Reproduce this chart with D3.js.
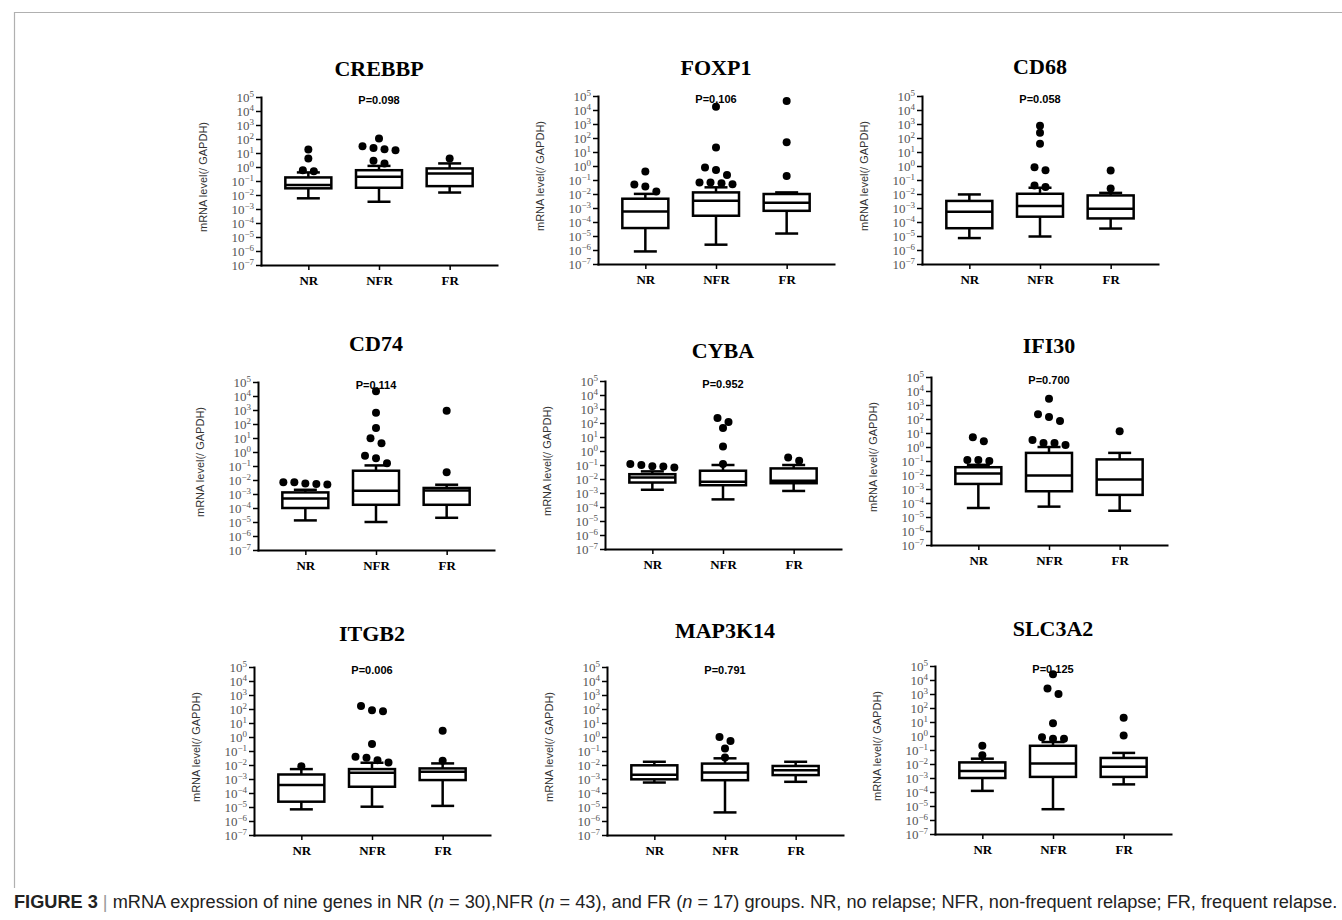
<!DOCTYPE html>
<html>
<head>
<meta charset="utf-8">
<script src="https://cdn.jsdelivr.net/npm/d3@7"></script>
<style>
  body { margin: 0; background: #fff; }
</style>
</head>
<body>
<div id="chart"></div>
<script>
const genes = ["CREBBP", "FOXP1", "CD68", "CD74", "CYBA", "IFI30", "ITGB2", "MAP3K14", "SLC3A2"];
const groups = ["NR", "NFR", "FR"];
const pValues = ["P=0.098", "P=0.106", "P=0.058", "P=0.114", "P=0.952", "P=0.700", "P=0.006", "P=0.791", "P=0.125"];
const yTicks = [1e-7, 1e-6, 1e-5, 1e-4, 1e-3, 1e-2, 1e-1, 1e0, 1e1, 1e2, 1e3, 1e4, 1e5];

// box stats per gene: [whisker low, q1, median, q3, whisker high]
const boxNR = [
    [0.0058, 0.030, 0.051, 0.18, 0.41],
    [7.9e-7, 3.7e-5, 5.6e-4, 0.0046, 0.0102],
    [7.1e-6, 3.6e-5, 5.5e-4, 0.0032, 0.0093],
    [1.3e-5, 1.0e-4, 4.7e-4, 0.0013, 0.0020],
    [0.0017, 0.0056, 0.013, 0.022, 0.035],
    [4.4e-5, 0.0023, 0.013, 0.036, 0.053],
    [6.8e-6, 2.4e-5, 3.7e-4, 0.0021, 0.0051],
    [5.6e-4, 9.5e-4, 0.0020, 0.0095, 0.017],
    [1.2e-4, 0.0010, 0.0031, 0.013, 0.024]
];
const boxNFR = [
    [0.0033, 0.033, 0.20, 0.59, 1.2],
    [2.4e-6, 2.8e-4, 0.0033, 0.013, 0.030],
    [9.2e-6, 2.4e-4, 0.0014, 0.0104, 0.028],
    [1.0e-5, 1.7e-4, 0.0017, 0.046, 0.11],
    [3.5e-4, 0.0036, 0.0063, 0.039, 0.10],
    [5.5e-5, 6.9e-4, 0.0091, 0.38, 1.0],
    [1.05e-5, 2.8e-4, 0.0028, 0.0051, 0.0145],
    [4.1e-6, 8.2e-4, 0.0029, 0.0126, 0.030],
    [5.9e-6, 0.0012, 0.011, 0.20, 0.37]
];
const boxFR = [
    [0.015, 0.043, 0.35, 0.79, 1.8],
    [1.5e-5, 6.3e-4, 0.0024, 0.010, 0.013],
    [3.4e-5, 1.8e-4, 8.9e-4, 0.0079, 0.012],
    [2.0e-5, 1.7e-4, 0.0018, 0.0027, 0.0046],
    [0.0014, 0.0050, 0.0074, 0.057, 0.10],
    [2.8e-5, 3.8e-4, 0.0047, 0.13, 0.38],
    [1.2e-5, 8.4e-4, 0.0033, 0.0057, 0.013],
    [6.3e-4, 0.0019, 0.0042, 0.0085, 0.017],
    [3.5e-4, 0.0012, 0.0063, 0.027, 0.062]
];

// outlier values per gene
const outNR = [
    [18, 4.0, 0.59, 0.50],
    [0.40, 0.048, 0.035, 0.015],
    [],
    [0.0051, 0.0068, 0.0056, 0.0070, 0.0048],
    [0.079, 0.12, 0.080, 0.10, 0.067],
    [5.0, 2.6, 0.098, 0.12, 0.12],
    [0.0083],
    [],
    [0.20, 0.042]
];
const outNFR = [
    [107, 30, 23, 18.6, 16, 2.75, 1.8],
    [17000, 21, 0.78, 0.52, 0.23, 0.065, 0.065, 0.058, 0.049],
    [740, 240, 39, 0.81, 0.50, 0.040, 0.031],
    [22000, 630, 51, 9.5, 4.2, 0.53, 0.36, 0.16],
    [230, 120, 44, 2.1, 0.12],
    [2800, 215, 138, 71, 3.2, 1.9, 1.9, 1.4],
    [166, 81, 69, 0.31, 0.039, 0.033, 0.022, 0.015],
    [1.0, 0.51, 0.15, 0.034],
    [26000, 2500, 980, 8.1, 0.83, 0.63, 0.63]
];
const outFR = [
    [4.1],
    [44000, 49, 0.19],
    [0.47, 0.025],
    [870, 0.036],
    [0.35, 0.20],
    [13.5],
    [2.8, 0.020],
    [],
    [20, 1.1]
];

const svgWidth = 1342;
const svgHeight = 920;

// where each panel's axes corner sits, and its title line
const panels = [
    {x: 261, y: 97, title: 68},
    {x: 598, y: 96, title: 67},
    {x: 922, y: 96, title: 66},
    {x: 258, y: 382, title: 343},
    {x: 605, y: 381, title: 350},
    {x: 931, y: 377, title: 345},
    {x: 254, y: 667, title: 633},
    {x: 607, y: 667, title: 630},
    {x: 935, y: 666, title: 628}
];
const plotW = 236;
const plotH = 168;
const boxW = 46;
const capW = 23;
const dotR = 4;
const dotGap = 11;

const svg = d3.select('#chart')
    .append('svg')
    .attr('width', svgWidth)
    .attr('height', svgHeight);

// light frame round the figure
svg.append('path')
    .attr('d', 'M14.5,888V12.5H1342')
    .attr('fill', 'none')
    .attr('stroke', '#b0b0b0')
    .attr('stroke-width', 1.2);

// group nearby outliers into rows and spread each row sideways
function swarm(values, y) {
    const pts = values.map(v => ({v: v, py: y(v)})).sort((a, b) => a.py - b.py);
    const rows = [];
    pts.forEach(p => {
        const last = rows.length ? rows[rows.length - 1] : null;
        if (last && p.py - last[last.length - 1].py < 6) last.push(p);
        else rows.push([p]);
    });
    rows.forEach(row => {
        row.forEach((p, k) => { p.dx = (k - (row.length - 1) / 2) * dotGap; });
    });
    return pts;
}

const boxSets = [boxNR, boxNFR, boxFR];
const outSets = [outNR, outNFR, outFR];

genes.forEach(function(gene, i) {
    const p = panels[i];
    const g = svg.append('g').attr('transform', `translate(${p.x},${p.y})`);

    const xScale = d3.scalePoint()
        .domain(groups)
        .range([0, plotW])
        .padding(0.67);

    const yScale = d3.scaleLog()
        .domain([1e-7, 1e5])
        .range([plotH, 0]);

    // y axis with 10^n labels
    const yAxis = g.append('g')
        .call(d3.axisLeft(yScale)
            .tickValues(yTicks)
            .tickSizeInner(5)
            .tickSizeOuter(0)
            .tickPadding(2)
            .tickFormat(''));
    yAxis.selectAll('.tick line').attr('stroke-width', 1.5);
    yAxis.selectAll('.tick text').each(function(d) {
        const t = d3.select(this)
            .attr('fill', '#555')
            .attr('font-family', 'Liberation Serif, Times New Roman, serif')
            .attr('font-size', 13);
        const e = Math.round(Math.log10(d));
        t.append('tspan').text('10');
        t.append('tspan')
            .attr('dy', '-0.5em')
            .attr('font-size', 9)
            .text(e < 0 ? '\u2212' + (-e) : e);
    });

    // x axis
    const xAxis = g.append('g')
        .attr('transform', `translate(0,${plotH})`)
        .call(d3.axisBottom(xScale)
            .tickSizeInner(5)
            .tickSizeOuter(0)
            .tickPadding(6));
    xAxis.selectAll('.tick line').attr('stroke-width', 1.5);
    xAxis.selectAll('.tick text')
        .attr('fill', '#000')
        .attr('font-family', 'Liberation Serif, Times New Roman, serif')
        .attr('font-weight', 'bold')
        .attr('font-size', 13);

    g.selectAll('.domain')
        .attr('stroke-width', 2)
        .attr('stroke-linecap', 'square');

    // boxes
    groups.forEach(function(grp, j) {
        const s = boxSets[j][i];
        const cx = xScale(grp);
        const bg = g.append('g')
            .attr('stroke', '#000')
            .attr('stroke-width', 2.5)
            .attr('fill', 'none');

        bg.append('line')
            .attr('x1', cx).attr('x2', cx)
            .attr('y1', yScale(s[4])).attr('y2', yScale(s[3]));
        bg.append('line')
            .attr('x1', cx).attr('x2', cx)
            .attr('y1', yScale(s[1])).attr('y2', yScale(s[0]));
        bg.append('line')
            .attr('x1', cx - capW / 2).attr('x2', cx + capW / 2)
            .attr('y1', yScale(s[4])).attr('y2', yScale(s[4]));
        bg.append('line')
            .attr('x1', cx - capW / 2).attr('x2', cx + capW / 2)
            .attr('y1', yScale(s[0])).attr('y2', yScale(s[0]));
        bg.append('rect')
            .attr('x', cx - boxW / 2)
            .attr('y', yScale(s[3]))
            .attr('width', boxW)
            .attr('height', yScale(s[1]) - yScale(s[3]))
            .attr('fill', '#fff');
        bg.append('line')
            .attr('x1', cx - boxW / 2).attr('x2', cx + boxW / 2)
            .attr('y1', yScale(s[2])).attr('y2', yScale(s[2]));

        g.selectAll(null)
            .data(swarm(outSets[j][i], yScale))
            .enter()
            .append('circle')
            .attr('cx', d => cx + d.dx)
            .attr('cy', d => d.py)
            .attr('r', dotR)
            .attr('fill', '#000');
    });

    // title and p value
    g.append('text')
        .attr('x', xScale('NFR'))
        .attr('y', p.title - p.y + 8)
        .attr('text-anchor', 'middle')
        .attr('font-family', 'Liberation Serif, Times New Roman, serif')
        .attr('font-weight', 'bold')
        .attr('font-size', 22)
        .text(gene);

    g.append('text')
        .attr('x', xScale('NFR'))
        .attr('y', 7)
        .attr('text-anchor', 'middle')
        .attr('font-family', 'Liberation Sans, Arial, sans-serif')
        .attr('font-weight', 'bold')
        .attr('font-size', 11)
        .text(pValues[i]);

    g.append('text')
        .attr('transform', `translate(-54, 80) rotate(-90)`)
        .attr('text-anchor', 'middle')
        .attr('font-family', 'Liberation Sans, Arial, sans-serif')
        .attr('font-size', 11)
        .attr('fill', '#333')
        .text('mRNA level(/ GAPDH)');
});

// caption
const caption = svg.append('text')
    .attr('x', 14)
    .attr('y', 908)
    .attr('font-family', 'Liberation Sans, Arial, sans-serif')
    .attr('font-size', 16)
    .attr('fill', '#222');
caption.append('tspan').attr('font-weight', 'bold').text('FIGURE 3');
caption.append('tspan').attr('fill', '#999').text(' | ');
caption.append('tspan').text('mRNA expression of nine genes in NR (');
caption.append('tspan').attr('font-style', 'italic').text('n');
caption.append('tspan').text(' = 30),NFR (');
caption.append('tspan').attr('font-style', 'italic').text('n');
caption.append('tspan').text(' = 43), and FR (');
caption.append('tspan').attr('font-style', 'italic').text('n');
caption.append('tspan').text(' = 17) groups. NR, no relapse; NFR, non-frequent relapse; FR, frequent relapse.');

const capLen = caption.node().getComputedTextLength();
caption.attr('font-size', 16 * 1324 / capLen);
</script>
</body>
</html>
